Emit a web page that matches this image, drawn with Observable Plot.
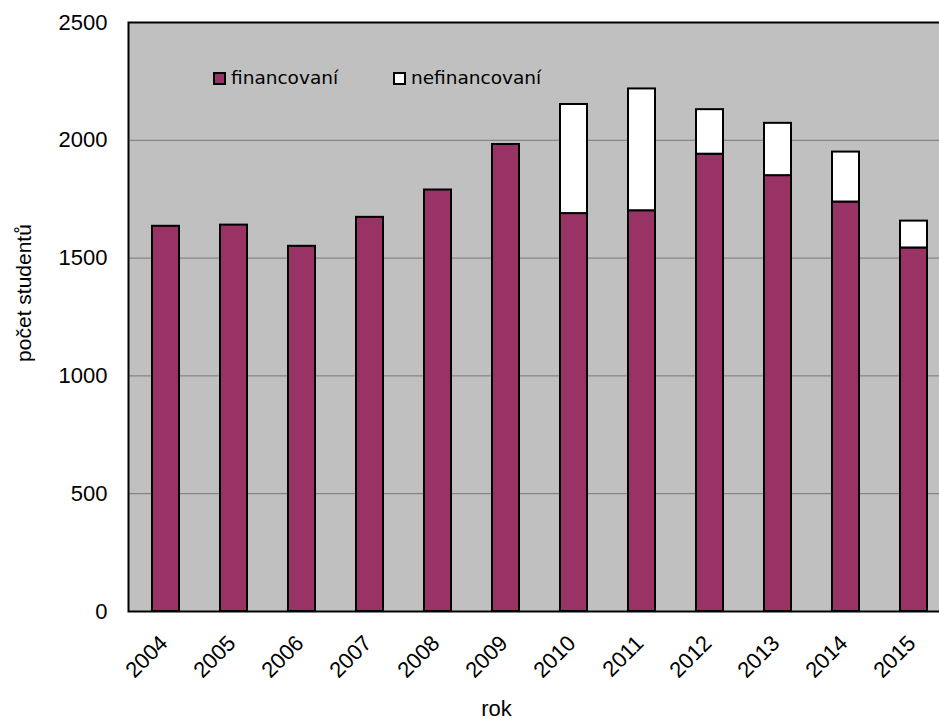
<!DOCTYPE html>
<html><head><meta charset="utf-8">
<script src="https://cdn.jsdelivr.net/npm/d3@7"></script>
<script src="https://cdn.jsdelivr.net/npm/@observablehq/plot@0.6"></script>
<style>
html,body{margin:0;padding:0;background:#fff;overflow:hidden;}
#wrap{position:relative;width:939px;height:722px;overflow:hidden;}
#wrap svg{position:absolute;left:0;top:0;max-width:none !important;}
.legend{position:absolute;font-family:"DejaVu Sans",Verdana,sans-serif;font-size:18.5px;line-height:1;color:#000;display:flex;align-items:center;white-space:nowrap;}
.sw{width:9px;height:9px;border:2px solid #000;margin-right:5px;}
</style></head><body><div id="wrap"></div>
<script>
const years = ["2004","2005","2006","2007","2008","2009","2010","2011","2012","2013","2014","2015"];
const financovani = [1635,1640,1550,1673,1789,1982,1689,1701,1941,1850,1738,1543];
const nefinancovani = [null,null,null,null,null,null,463,517,189,222,212,114];
const seriesNames = ["financovaní","nefinancovaní"];
const seriesColors = ["#993366","#FFFFFF"];
const yTicks = [0,500,1000,1500,2000,2500];
const xTitle = "rok";
const yTitle = "počet studentů";

const rows = [];
years.forEach((y,i)=>{
  rows.push({year:y, series:seriesNames[0], value:financovani[i]});
  if (nefinancovani[i] != null) rows.push({year:y, series:seriesNames[1], value:nefinancovani[i]});
});

const chart = Plot.plot({
  width: 960, height: 722,
  marginLeft:128, marginRight:8, marginTop:22, marginBottom:111,
  style:{fontFamily:"Arial, 'Liberation Sans', sans-serif", fontSize:"22px", color:"#000", background:"transparent", overflow:"visible", maxWidth:"none"},
  x:{type:"band", domain:years, paddingInner:0.6, paddingOuter:0.3, axis:null},
  y:{domain:[0,2500], axis:null},
  color:{domain:seriesNames, range:seriesColors},
  marks:[
    Plot.frame({fill:"#C0C0C0"}),
    Plot.gridY(yTicks.filter(t=>t>0 && t<2500), {stroke:"#777", strokeOpacity:1, strokeWidth:1}),
    Plot.barY(rows, {x:"year", y:"value", fill:"series", stroke:"#000", strokeWidth:2, order:seriesNames}),
    Plot.frame({stroke:"#000", strokeWidth:2}),
    Plot.axisY(yTicks, {tickSize:0, tickPadding:21, fontSize:22, tickFormat:d=>String(d), label:null}),
    Plot.text(years, {x:d=>d, y:()=>0, text:d=>d, rotate:-45, textAnchor:"end", lineAnchor:"bottom", dx:3, dy:33, fontSize:22}),
    Plot.text([xTitle], {frameAnchor:"bottom", text:d=>d, textAnchor:"middle", lineAnchor:"bottom", dx:-44, dy:104, fontSize:22}),
    Plot.text([yTitle], {frameAnchor:"left", text:d=>d, rotate:-90, textAnchor:"middle", lineAnchor:"bottom", dx:-98, dy:-24, fontSize:21})
  ]
});
const wrap = document.getElementById("wrap");
wrap.appendChild(chart);

const legendPos = [[213,69.4],[393,69.4]];
seriesNames.forEach((s,i)=>{
  const d = document.createElement("div");
  d.className = "legend";
  d.style.left = legendPos[i][0] + "px";
  d.style.top = legendPos[i][1] + "px";
  const sw = document.createElement("span");
  sw.className = "sw";
  sw.style.background = seriesColors[i];
  d.appendChild(sw);
  d.appendChild(document.createTextNode(s));
  wrap.appendChild(d);
});
</script></body></html>
